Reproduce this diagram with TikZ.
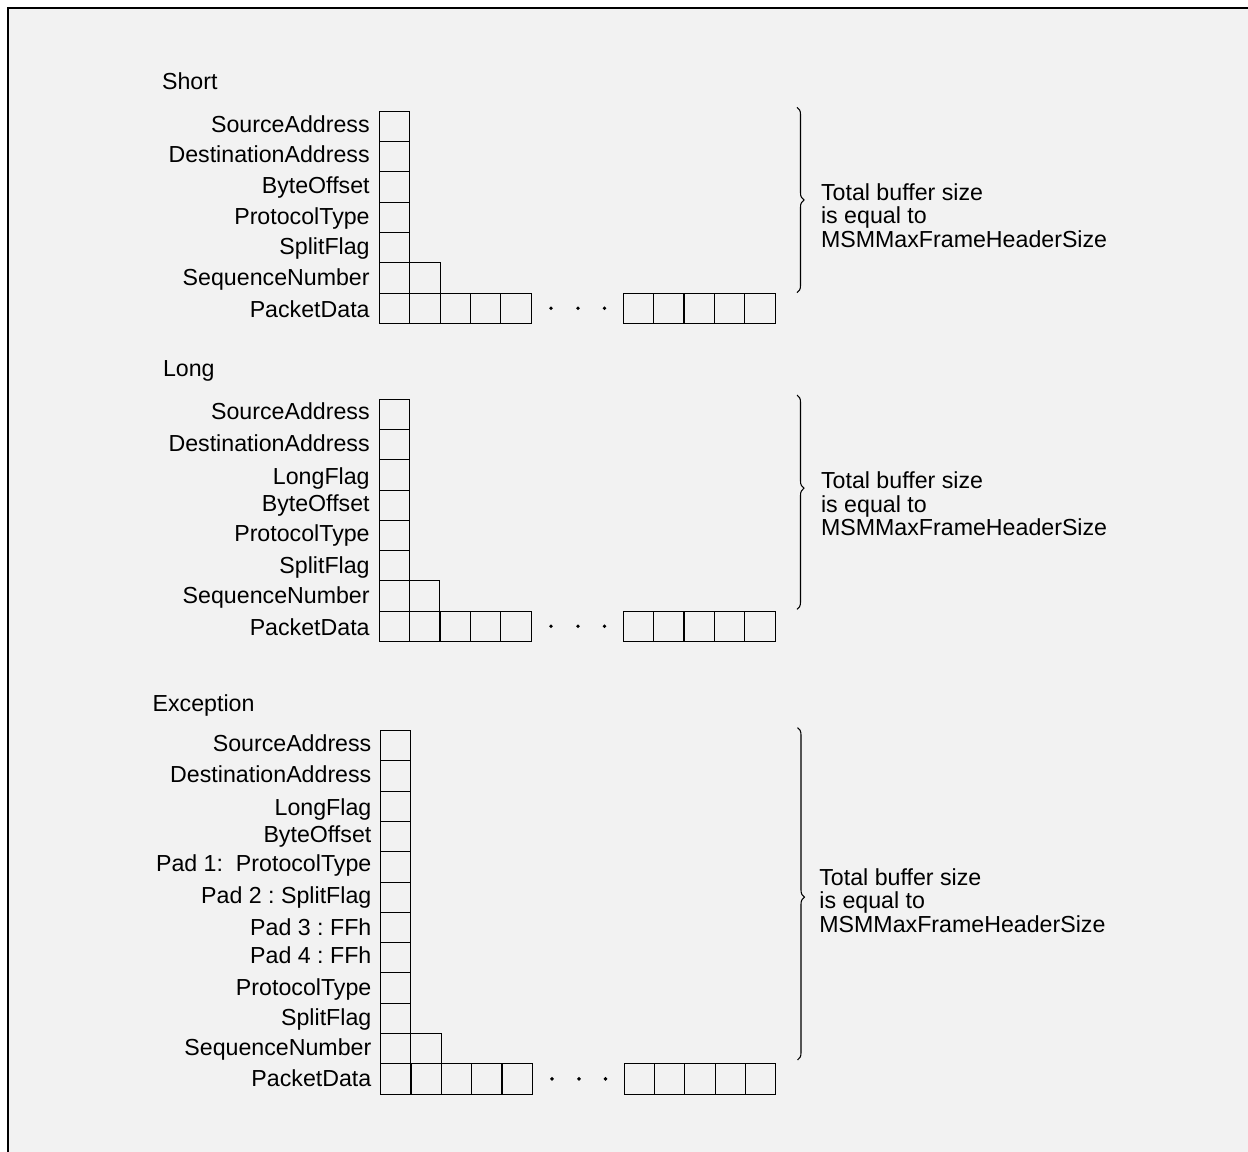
\documentclass[tikz,border=0pt]{standalone}
\usepackage{fontspec}
\setmainfont{Liberation Sans}
\usetikzlibrary{positioning,decorations.pathreplacing}
\definecolor{paper}{HTML}{F2F2F2}
\frenchspacing

\begin{document}
\begin{tikzpicture}[x=0.02cm,y=-0.02cm,
    font=\fontsize{13.2}{13.3}\selectfont,
    cell/.style={draw, line width=0.6pt, inner sep=0pt, outer sep=0pt, minimum size=0.606cm},
    field/.style={anchor=base east, inner sep=0pt},
    title/.style={anchor=base west, inner sep=0pt},
    dot/.style={circle, fill, inner sep=0pt, minimum size=2.2pt},
    bracket/.style={decorate, decoration={brace, amplitude=0.14cm, aspect=#1}, line width=0.6pt},
    bracket/.default=0.5,
    note/.style={anchor=base west, align=left, inner sep=0pt}]

      \useasboundingbox (0,0) rectangle (1248,1152);
      \fill[paper] (8,8) rectangle (1248,1152);
      \draw[line width=1.15pt] (8,1152) -- (8,8) -- (1248,8);

      % Short frame
      \node[title] (short) at (161.7,89.3) {Short};
      \foreach \r/\name/\y in {0/SourceAddress/132.7, 1/DestinationAddress/162.7, 2/ByteOffset/193.3,
          3/ProtocolType/225, 4/SplitFlag/255, 5/SequenceNumber/286, 6/PacketData/317.3}{
        \node[cell] (s\r) at (394.7,{126.2+30.35*\r}) {};
        \node[field] (sf\r) at (370,\y) {\name};
      }
      \node[cell, right=0pt of s5] (s5a) {};
      \foreach \k in {1,...,4} \node[cell] (s6l\k) at ({394.7+30.35*\k},{126.2+30.35*6}) {};
      \foreach \k in {0,...,4} \node[cell] (s6r\k) at ({638.5+30.35*\k},{126.2+30.35*6}) {};
      \foreach \x [count=\i] in {551,578,604.5} \node[dot] (sdot\i) at (\x,{126.2+30.35*6}) {};
      \draw[bracket] (797,107.3) -- (797,292.7);
      \node[note] (snote) at (820.7,247.3) {Total buffer size\\is equal to\\MSMMaxFrameHeaderSize};

      % Long frame
      \node[title] (long) at (162.7,376.7) {Long};
      \foreach \r/\name/\y in {0/SourceAddress/419.3, 1/DestinationAddress/451.7, 2/LongFlag/484.3,
          3/ByteOffset/511.7, 4/ProtocolType/541.7, 5/SplitFlag/573.3, 6/SequenceNumber/603.3, 7/PacketData/635}{
        \node[cell] (l\r) at (394.5,{414.5+30.25*\r}) {};
        \node[field] (lf\r) at (370,\y) {\name};
      }
      \node[cell, right=0pt of l6] (l6a) {};
      \foreach \k in {1,...,4} \node[cell] (l7l\k) at ({394.5+30.35*\k},{414.5+30.25*7}) {};
      \foreach \k in {0,...,4} \node[cell] (l7r\k) at ({638.5+30.35*\k},{414.5+30.25*7}) {};
      \foreach \x [count=\i] in {551,578,604.5} \node[dot] (ldot\i) at (\x,{414.5+30.25*7}) {};
      \draw[bracket=0.435] (797,395) -- (797,609.3);
      \node[note] (lnote) at (820.7,535.7) {Total buffer size\\is equal to\\MSMMaxFrameHeaderSize};

      % Exception frame
      \node[title] (exception) at (152.3,711.7) {Exception};
      \foreach \r/\name/\y in {0/SourceAddress/751, 1/DestinationAddress/782.7, 2/LongFlag/815,
          3/ByteOffset/842.7, 4/{Pad 1:\ \ ProtocolType}/871.7, 5/{Pad 2 : SplitFlag}/903.3,
          6/{Pad 3 : FFh}/935.7, 7/{Pad 4 : FFh}/963.3, 8/ProtocolType/995, 9/SplitFlag/1025,
          10/SequenceNumber/1055, 11/PacketData/1086.7}{
        \node[cell] (e\r) at (395.8,{745.8+30.28*\r}) {};
        \node[field] (ef\r) at (371.7,\y) {\name};
      }
      \node[cell, right=0pt of e10] (e10a) {};
      \foreach \k in {1,...,4} \node[cell] (e11l\k) at ({395.8+30.35*\k},{745.8+30.28*11}) {};
      \foreach \k in {0,...,4} \node[cell] (e11r\k) at ({639.3+30.35*\k},{745.8+30.28*11}) {};
      \foreach \x [count=\i] in {552,579,605.5} \node[dot] (edot\i) at (\x,{745.8+30.28*11}) {};
      \draw[bracket=0.51] (797.5,727.7) -- (797.5,1060);
      \node[note] (enote) at (819,932.3) {Total buffer size\\is equal to\\MSMMaxFrameHeaderSize};

    \end{tikzpicture}
\end{document}
